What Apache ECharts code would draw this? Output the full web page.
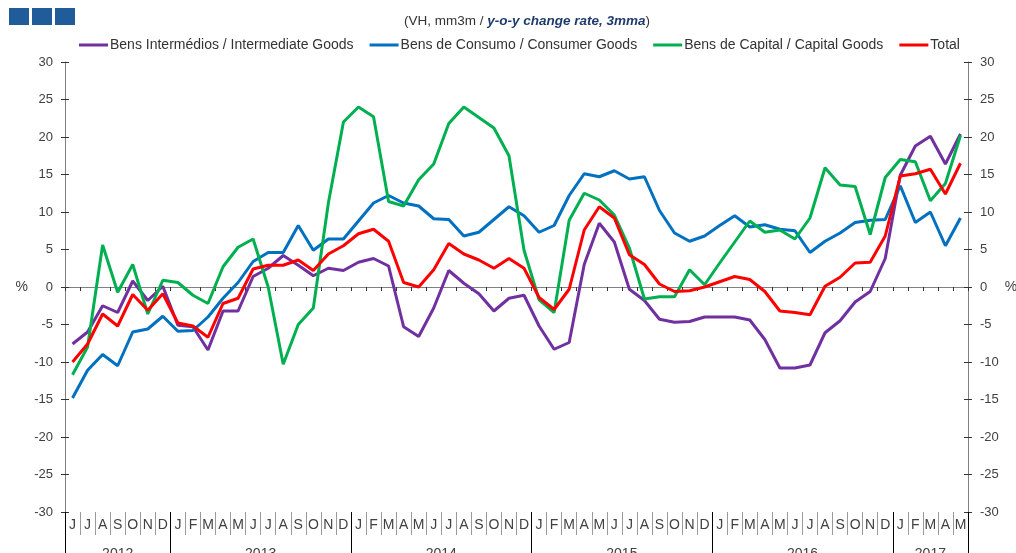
<!DOCTYPE html>
<html>
<head>
<meta charset="utf-8">
<script src="https://cdn.jsdelivr.net/npm/echarts@6/dist/echarts.min.js"></script>
<style>
  html, body { margin: 0; padding: 0; background: #fff; }
  #chart { width: 1016px; height: 553px; }
</style>
</head>
<body>
<div id="chart"></div>
<script>
// month letters, Jun 2012 .. May 2017
const months = [
  'J','J','A','S','O','N','D',
  'J','F','M','A','M','J','J','A','S','O','N','D',
  'J','F','M','A','M','J','J','A','S','O','N','D',
  'J','F','M','A','M','J','J','A','S','O','N','D',
  'J','F','M','A','M','J','J','A','S','O','N','D',
  'J','F','M','A','M'
];
const years = ['2012', '2013', '2014', '2015', '2016', '2017'];
const yearBreaks = [0, 7, 19, 31, 43, 55, 60];
const yearMids = [3.5, 13, 25, 37, 49, 57.5];

const intermediate = [
  -7.6, -6.0, -2.5, -3.4, 0.8, -1.8, 0.1, -5.1, -5.3, -8.4, -3.2, -3.2,
  1.4, 2.5, 4.2, 2.9, 1.5, 2.5, 2.2, 3.3, 3.8, 2.8, -5.3, -6.6,
  -2.8, 2.2, 0.5, -0.9, -3.2, -1.5, -1.1, -5.2, -8.3, -7.4, 3.0, 8.5,
  6.0, -0.3, -1.8, -4.3, -4.7, -4.6, -4.0, -4.0, -4.0, -4.4, -7.0, -10.8,
  -10.8, -10.4, -6.1, -4.5, -2.0, -0.6, 3.8, 14.9, 18.8, 20.1, 16.4, 20.4
];
const consumer = [
  -14.8, -11.1, -9.0, -10.5, -6.0, -5.6, -3.9, -5.9, -5.8, -4.0, -1.5, 0.6,
  3.4, 4.6, 4.6, 8.2, 4.9, 6.4, 6.4, 8.8, 11.2, 12.2, 11.2, 10.8,
  9.1, 9.0, 6.8, 7.3, 9.0, 10.7, 9.5, 7.3, 8.2, 12.2, 15.1, 14.7,
  15.5, 14.4, 14.7, 10.2, 7.2, 6.1, 6.8, 8.2, 9.5, 8.0, 8.3, 7.7,
  7.5, 4.6, 6.1, 7.2, 8.6, 8.9, 9.0, 13.5, 8.6, 10.0, 5.5, 9.2
];
const capital = [
  -11.7, -8.0, 5.6, -0.7, 3.0, -3.6, 0.9, 0.6, -1.1, -2.2, 2.7, 5.3,
  6.4, 0.0, -10.3, -5.0, -2.8, 11.2, 22.0, 24.0, 22.7, 11.4, 10.8, 14.3,
  16.4, 21.8, 24.0, 22.6, 21.2, 17.5, 4.9, -1.7, -3.4, 8.9, 12.5, 11.6,
  9.6, 5.2, -1.6, -1.3, -1.3, 2.3, 0.3, 3.2, 6.0, 8.8, 7.3, 7.6,
  6.4, 9.2, 15.9, 13.6, 13.4, 7.0, 14.6, 17.0, 16.7, 11.5, 13.8, 20.2
];
const total = [
  -10.0, -7.6, -3.6, -5.2, -1.0, -3.1, -0.9, -4.8, -5.2, -6.7, -2.2, -1.5,
  2.4, 2.9, 2.9, 3.6, 2.2, 4.4, 5.5, 7.1, 7.7, 6.1, 0.6, 0.0,
  2.3, 5.8, 4.4, 3.6, 2.5, 3.8, 2.5, -1.4, -3.0, -0.3, 7.6, 10.7,
  9.2, 4.3, 3.0, 0.4, -0.6, -0.5, 0.0, 0.7, 1.4, 1.0, -0.6, -3.2,
  -3.4, -3.7, 0.1, 1.3, 3.2, 3.3, 6.8, 14.8, 15.1, 15.7, 12.4, 16.5
];

const names = [
  'Bens Intermédios / Intermediate Goods',
  'Bens de Consumo / Consumer Goods',
  'Bens de Capital / Capital Goods',
  'Total'
];
const colors = ['#7030A0', '#0070C0', '#00B050', '#FF0000'];
const seriesData = [intermediate, consumer, capital, total];

const font = 'Liberation Sans, Arial, sans-serif';
const axisGrey = '#808080';
const textGrey = '#404040';

function yAxisSide(pos, showAll) {
  return {
    type: 'value', position: pos, min: -30, max: 30, interval: 5,
    name: showAll ? '%' : '', nameLocation: 'middle', nameRotate: 0,
    nameGap: pos === 'left' ? 37 : 33,
    nameTextStyle: { color: textGrey, fontSize: 14, fontFamily: font },
    axisLine: { show: showAll, lineStyle: { color: axisGrey } },
    axisTick: { show: true, inside: !showAll, length: 4, lineStyle: { color: '#333' } },
    axisLabel: { show: showAll, color: textGrey, fontSize: 13, fontFamily: font, margin: 12 },
    splitLine: { show: false }
  };
}

const chart = echarts.init(document.getElementById('chart'), null, { renderer: 'canvas' });

chart.setOption({
  animation: false,
  color: colors,
  title: {
    text: '{a|(VH, mm3m / }{b|y-o-y change rate, 3mma}{a|)}',
    left: 399, top: 9,
    textStyle: {
      rich: {
        a: { fontSize: 13.5, color: '#333', fontWeight: 'normal', fontFamily: font },
        b: { fontSize: 13.5, color: '#1F3B6E', fontWeight: 'bold', fontStyle: 'italic', fontFamily: font }
      }
    }
  },
  graphic: [
    { type: 'rect', shape: { x: 9, y: 8, width: 20, height: 17 }, style: { fill: '#1F5C99' } },
    { type: 'rect', shape: { x: 32, y: 8, width: 20, height: 17 }, style: { fill: '#1F5C99' } },
    { type: 'rect', shape: { x: 55, y: 8, width: 20, height: 17 }, style: { fill: '#1F5C99' } }
  ],
  legend: {
    left: 74, top: 33,
    icon: 'rect', itemWidth: 29, itemHeight: 3, itemGap: 16,
    textStyle: { fontSize: 14, color: '#333', fontFamily: font, padding: [0, 0, 0, -3] },
    data: names
  },
  grid: { left: 65, right: 48, top: 62, bottom: 41, outerBoundsMode: 'none' },
  xAxis: [
    {
      type: 'category', data: months, position: 'bottom',
      axisLine: { onZero: true, lineStyle: { color: axisGrey } },
      axisTick: { show: true, length: 4, lineStyle: { color: '#333' } },
      axisLabel: { show: false }
    },
    {
      type: 'category', data: months, position: 'bottom',
      axisLine: { show: false, onZero: false },
      axisTick: { show: true, length: 23, lineStyle: { color: '#9a9a9a' } },
      axisLabel: { color: textGrey, fontSize: 14, fontFamily: font, margin: 6, interval: 0 }
    },
    {
      type: 'value', position: 'bottom', min: 0, max: 60,
      axisLine: { show: false, onZero: false },
      axisTick: { show: true, length: 42, customValues: yearBreaks, lineStyle: { color: '#000' } },
      axisLabel: {
        show: true, customValues: yearMids, margin: 35,
        color: textGrey, fontSize: 14, fontFamily: font,
        formatter: function (v) { return years[yearMids.indexOf(v)]; }
      },
      splitLine: { show: false }
    }
  ],
  yAxis: [
    yAxisSide('left', true),
    yAxisSide('right', true),
    yAxisSide('left', false),
    yAxisSide('right', false)
  ],
  series: seriesData.map(function (d, i) {
    return {
      name: names[i], type: 'line', data: d,
      xAxisIndex: 0, yAxisIndex: 0,
      symbol: 'none', lineStyle: { width: 3, color: colors[i] },
      z: 2 + i
    };
  })
});
</script>
</body>
</html>
